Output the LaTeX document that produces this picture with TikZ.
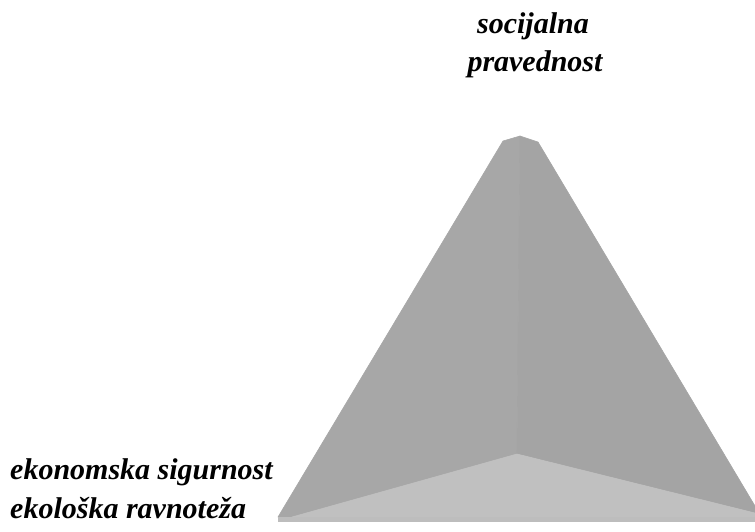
\documentclass[tikz,border=0pt]{standalone}
\usepackage{fontspec}
\setmainfont{Liberation Serif}
\definecolor{faceleft}{HTML}{A7A7A7}
\definecolor{faceright}{HTML}{A4A4A4}
\definecolor{facefront}{HTML}{C0C0C0}
\definecolor{basestrip}{HTML}{BDBDBD}
\tikzset{
  corner label/.style={font=\fontsize{30}{36}\selectfont\bfseries\itshape, inner sep=0pt},
  face/.style={fill=#1, draw=#1, line width=.6pt, line join=round}
}
\begin{document}
\begin{tikzpicture}[x=1pt,y=-1pt]

\useasboundingbox (0,0) rectangle (755,531);

\coordinate (apex) at (520,136);
\coordinate (shl) at (503,141);
\coordinate (shr) at (538,142);
\coordinate (mid) at (517,454);
\coordinate (bl) at (278,517);
\coordinate (fl) at (292,517);
\coordinate (er) at (755,506);
\coordinate (fr) at (755,513);
\coordinate (br) at (755,517);

\begin{scope}
\clip (0,0) rectangle (755,531);
\path[face=faceleft]
  (apex) -- (shl) -- (bl) -- (fl) -- (mid) -- cycle;
\path[face=faceright]
  (apex) -- (shr) -- (er) -- (fr) -- (mid) -- cycle;
\path[face=facefront]
  (fl) -- (mid) -- (fr) -- (br) -- cycle;
\fill[basestrip]
  (bl) rectangle (755,522);
\end{scope}

\node[corner label, anchor=base] (top1) at (533,33) {socijalna};
\node[corner label, anchor=base] (top2) at (535,71) {pravednost};
\node[corner label, anchor=base west] (left1) at (10,479) {ekonomska sigurnost};
\node[corner label, anchor=base west] (left2) at (10,518) {ekološka ravnoteža};
\end{tikzpicture}
\end{document}
